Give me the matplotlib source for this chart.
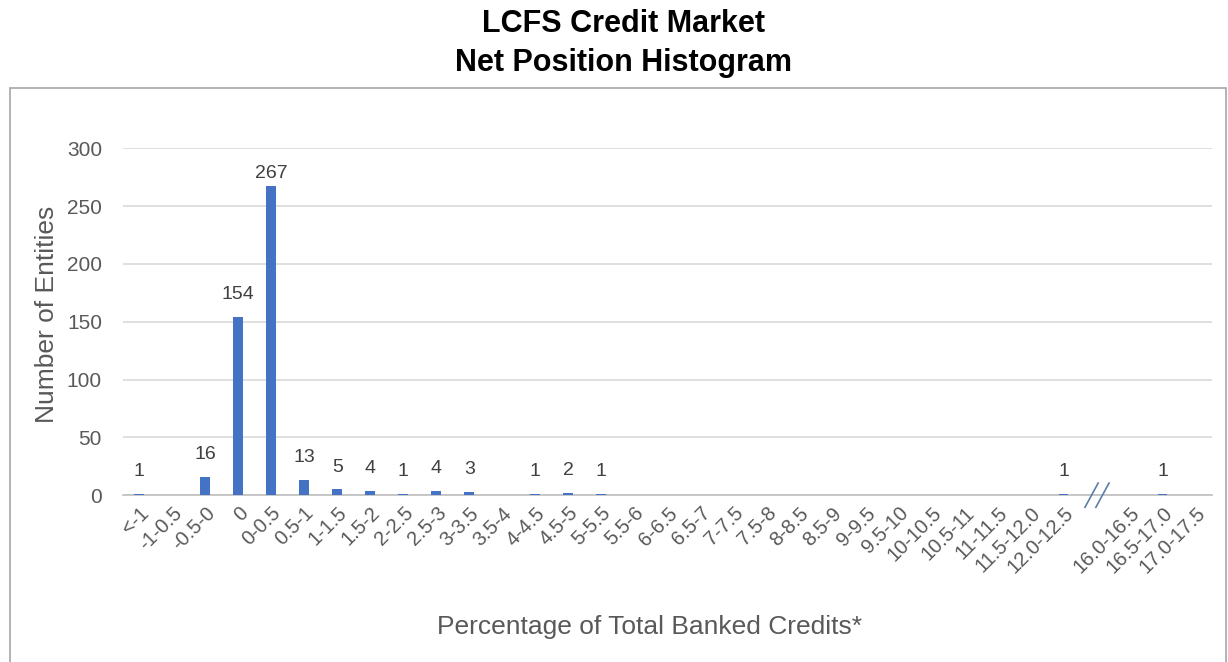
import matplotlib
matplotlib.use("Agg")
import matplotlib.pyplot as plt
from matplotlib.patches import Rectangle

plt.rcParams['font.family'] = ['Liberation Sans', 'DejaVu Sans']

categories = ["<-1", "-1-0.5", "-0.5-0", "0", "0-0.5", "0.5-1", "1-1.5", "1.5-2",
              "2-2.5", "2.5-3", "3-3.5", "3.5-4", "4-4.5", "4.5-5", "5-5.5", "5.5-6",
              "6-6.5", "6.5-7", "7-7.5", "7.5-8", "8-8.5", "8.5-9", "9-9.5", "9.5-10",
              "10-10.5", "10.5-11", "11-11.5", "11.5-12.0", "12.0-12.5", "",
              "16.0-16.5", "16.5-17.0", "17.0-17.5"]
counts = [1, 0, 16, 154, 267, 13, 5, 4, 1, 4, 3, 0, 1, 2, 1, 0,
          0, 0, 0, 0, 0, 0, 0, 0, 0, 0, 0, 0, 1, None, 0, 1, 0]
labels_shown = [1, None, 16, 154, 267, 13, 5, 4, 1, 4, 3, None, 1, 2, 1, None,
                None, None, None, None, None, None, None, None, None, None, None, None, 1, None,
                None, 1, None]
yticks = [0, 50, 100, 150, 200, 250, 300]

bar_color = "#4472C4"
gray_text = "#595959"

fig = plt.figure(figsize=(12.28, 6.62), dpi=100)
# outer frame
fig.patches.append(Rectangle((0.008, -0.01), 0.99, 0.877, transform=fig.transFigure,
                             fill=False, edgecolor="#a6a6a6", linewidth=1.2))
fig.text(0.508, 0.963, "LCFS Credit Market", ha="center", va="center",
         fontsize=22, fontweight="bold", color="black")
fig.text(0.508, 0.905, "Net Position Histogram", ha="center", va="center",
         fontsize=22, fontweight="bold", color="black")

ax = fig.add_axes([0.100, 0.252, 0.887, 0.524])
x = list(range(len(categories)))
vals = [0 if v is None else v for v in counts]
ax.bar(x, vals, width=0.3, color=bar_color, zorder=3)
for xi, lab in zip(x, labels_shown):
    if lab is not None:
        ax.text(xi, min(lab + 12, 271), str(lab), ha="center", va="bottom",
                fontsize=14, color="#404040")

ax.set_xlim(-0.5, len(categories) - 0.5)
ax.set_ylim(0, 300)
ax.set_yticks(yticks)
ax.set_xticks(x)
ax.set_xticklabels(categories, rotation=45, ha="right", rotation_mode="anchor",
                   fontsize=14.5, color=gray_text)
ax.tick_params(axis="y", labelsize=15, colors=gray_text, length=0, pad=15)
ax.tick_params(axis="x", length=0, pad=6)
ax.yaxis.grid(True, color="#d9d9d9", linewidth=1.2, zorder=0)
ax.set_axisbelow(True)
for s in ["top", "right", "left"]:
    ax.spines[s].set_visible(False)
ax.spines["bottom"].set_color("#bfbfbf")
ax.spines["bottom"].set_linewidth(1.2)

ax.set_ylabel("Number of Entities", fontsize=19, color=gray_text)
ax.yaxis.set_label_coords(-0.059, 0.52)
ax.set_xlabel("Percentage of Total Banked Credits*", fontsize=19, color=gray_text)
ax.xaxis.set_label_coords(0.484, -0.345)

# axis break marks at the gap slot
gap = categories.index("")
trans = ax.get_xaxis_transform()
for off in (-0.15, 0.18):
    ax.plot([gap + off - 0.2, gap + off + 0.2], [-0.035, 0.035], transform=trans,
            color="#5b7fa8", linewidth=1.2, clip_on=False, zorder=5)

fig.savefig("out.png", dpi=100)
